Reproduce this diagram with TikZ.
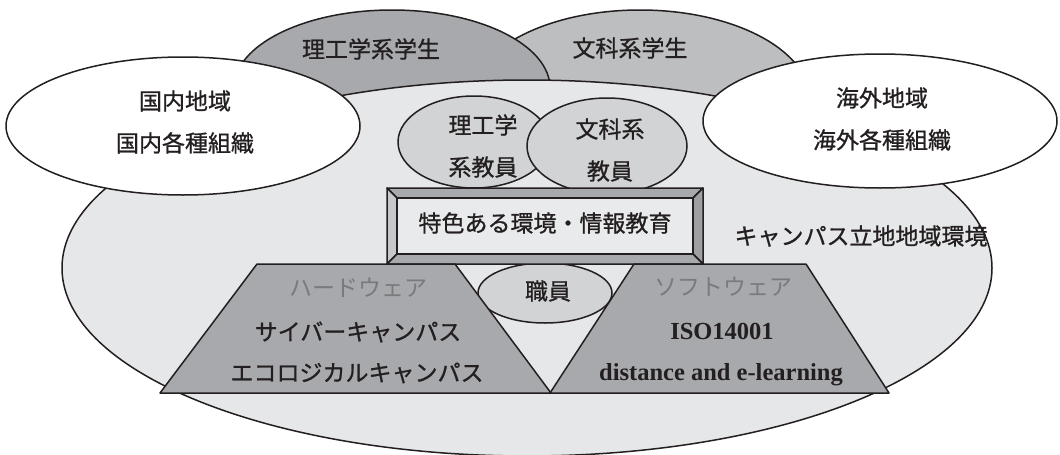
\documentclass[tikz,border=0pt]{standalone}
\usepackage{fontspec}
\setmainfont{Liberation Serif}
\newfontfamily\jp[FakeBold=0.9]{Noto Sans CJK JP}
\newfontfamily\jplight{Noto Sans CJK JP}
\definecolor{bigbg}{HTML}{E6E7E8}
\definecolor{darkg}{HTML}{A7A9AC}
\definecolor{midg}{HTML}{BCBEC0}
\definecolor{smallg}{HTML}{D1D3D4}
\definecolor{bevtop}{HTML}{A7A9AC}
\definecolor{bevleft}{HTML}{C7C8CA}
\definecolor{bevright}{HTML}{9D9FA2}
\definecolor{bevbot}{HTML}{A7A9AC}
\definecolor{innerg}{HTML}{E9EAEB}
\definecolor{inkc}{HTML}{231F20}
\definecolor{lightink}{HTML}{7A7A7C}
\begin{document}
\begin{tikzpicture}[x=1pt,y=-1pt,line width=1.5pt,line join=round,
  shapeline/.style={draw=inkc},
  jt/.style={inner sep=0pt,text=inkc,font=\jp\fontsize{23pt}{42pt}\selectfont,align=center},
  jlight/.style={inner sep=0pt,text=lightink,font=\jplight\fontsize{23pt}{42pt}\selectfont},
  en/.style={inner sep=0pt,text=inkc,font=\bfseries\fontsize{24.5pt}{30pt}\selectfont}]
\useasboundingbox (0,0) rectangle (1060,455);
\fill[white] (0,0) rectangle (1060,455);
% students ellipses
\draw[shapeline,fill=midg] (640,100) ellipse [x radius=170pt, y radius=90pt];
\draw[shapeline,fill=darkg] (392,88) ellipse [x radius=158pt, y radius=78pt];
% campus region
\draw[shapeline,fill=bigbg] (527,268) ellipse [x radius=465pt, y radius=188pt];
% regions
\draw[shapeline,fill=white] (183,126) ellipse [x radius=177pt, y radius=69pt];
\draw[shapeline,fill=white] (880,121) ellipse [x radius=177pt, y radius=67pt];
% faculty
\draw[shapeline,fill=smallg] (474,142) ellipse [x radius=76pt, y radius=46pt];
\draw[shapeline,fill=smallg] (607,146) ellipse [x radius=80pt, y radius=48pt];
% staff
\draw[shapeline,fill=smallg] (545,293) ellipse [x radius=67pt, y radius=30pt];
% bevel box
\draw[shapeline,fill=bevtop] (387,188) -- (703,188) -- (693,198) -- (397,198) -- cycle;
\draw[shapeline,fill=bevleft] (387,188) -- (397,198) -- (397,254) -- (387,264) -- cycle;
\draw[shapeline,fill=bevright] (703,188) -- (703,264) -- (693,254) -- (693,198) -- cycle;
\draw[shapeline,fill=bevbot] (387,264) -- (703,264) -- (693,254) -- (397,254) -- cycle;
\draw[shapeline,fill=innerg] (397,198) rectangle (693,254);
% trapezoids
\draw[shapeline,fill=darkg] (160,393) -- (257,264) -- (455,264) -- (551,393) -- cycle;
\draw[shapeline,fill=darkg] (550,393) -- (634,264) -- (806,264) -- (889,393) -- cycle;
% texts
\node[jt] (rikoS) at (371,49) {理工学系学生};
\node[jt] (bunS) at (630,48) {文科系学生};
\node[jt] (kokunai) at (185,122) {国内地域\\国内各種組織};
\node[jt] (kaigai) at (882,119) {海外地域\\海外各種組織};
\node[jt] (rikoT) at (483,146) {理工学\\系教員};
\node[jt] (bunT) at (610,150) {文科系\\教員};
\node[jt] (tokushoku) at (545,223) {特色ある環境・情報教育};
\node[jt] (shokuin) at (548,291) {職員};
\node[jt] (campus) at (861,236) {キャンパス立地地域環境};
\node[jlight] (hard) at (358,288) {ハードウェア};
\node[jt] (cyber) at (358,332) {サイバーキャンパス};
\node[jt] (eco) at (357,373) {エコロジカルキャンパス};
\node[jlight] (soft) at (723,287) {ソフトウェア};
\node[en,anchor=base] (iso) at (722,339) {ISO14001};
\node[en,anchor=base] (dist) at (721,380) {distance and e-learning};
\end{tikzpicture}
\end{document}
